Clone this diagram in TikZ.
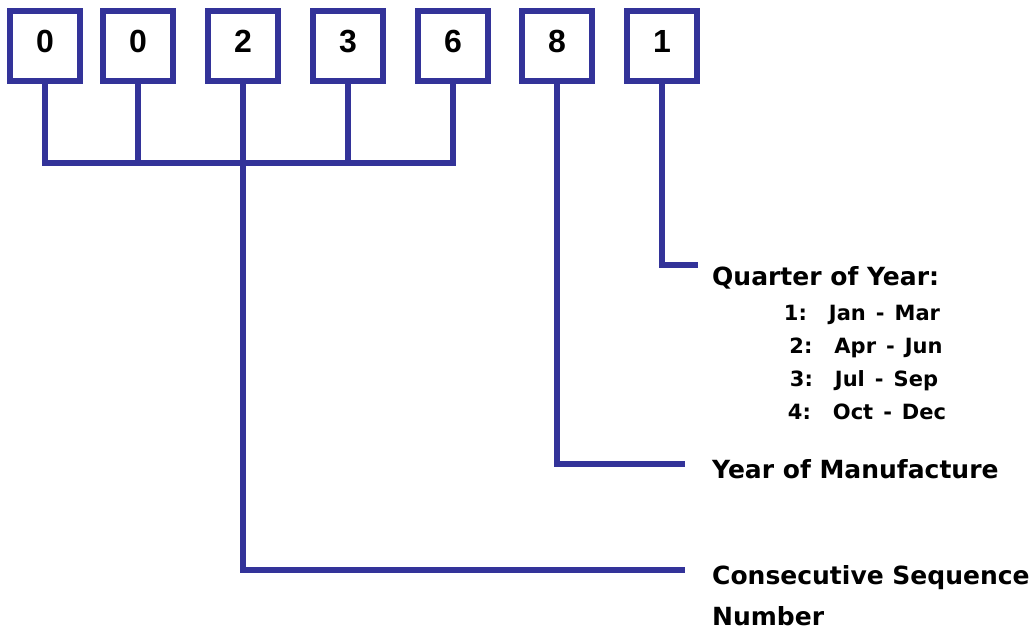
\documentclass[tikz,border=0pt]{standalone}
\usepackage{fontspec}
\setmainfont{DejaVu Sans}
\newfontfamily\digitfont{Liberation Sans}
\usetikzlibrary{positioning}
\definecolor{wireblue}{RGB}{51,51,153}
\newcommand{\months}[3]{#1:\hspace{22pt}#2\hspace{10pt}-\hspace{10pt}#3}
\tikzset{
    digit/.style={draw=wireblue, line width=6pt, minimum width=70pt, minimum height=70pt,
                  inner sep=0pt, text height=23pt, text depth=10pt,
                  font=\digitfont\bfseries\fontsize{32}{32}\selectfont},
    wire/.style={draw=wireblue, line width=6pt},
    title/.style={anchor=base west, inner sep=0pt, font=\bfseries\fontsize{25}{41}\selectfont},
    item/.style={anchor=base, inner sep=0pt, font=\bfseries\fontsize{21}{21}\selectfont},
}

\begin{document}
\begin{tikzpicture}[x=1pt, y=-1pt]
    \useasboundingbox (0,0) rectangle (1035,631);

    % Digits of the serial number
    \node[digit] (d1) at (45,46)  {0};
    \node[digit] (d2) at (138,46) {0};
    \node[digit] (d3) at (243,46) {2};
    \node[digit] (d4) at (348,46) {3};
    \node[digit] (d5) at (453,46) {6};
    \node[digit] (d6) at (557,46) {8};
    \node[digit] (d7) at (662,46) {1};

    % Bracket under the first five digits
    \coordinate (bar) at (0,163);
    \draw[wire, line join=miter] (d1.south) -- (d1.south |- bar) -- (d5.south |- bar) -- (d5.south);
    \draw[wire] (d2.south) -- (d2.south |- bar);
    \draw[wire] (d4.south) -- (d4.south |- bar);

    % Line ends next to the labels
    \coordinate (qend) at (698,265);
    \coordinate (yend) at (685,464);
    \coordinate (send) at (685,570);
    \draw[wire, line join=miter] (d7.south) |- (qend);
    \draw[wire, line join=miter] (d6.south) |- (yend);
    \draw[wire, line join=miter] (d3.south) |- (send);

    % Labels
    \node[title] (quarter) at (712,285) {Quarter of Year:};
    \node[item] (q1) at (862,320) {\months{1}{Jan}{Mar}};
    \node[item] (q2) at (866,353) {\months{2}{Apr}{Jun}};
    \node[item] (q3) at (864,386) {\months{3}{Jul}{Sep}};
    \node[item] (q4) at (867,419) {\months{4}{Oct}{Dec}};
    \node[title] (year) at (712,478) {Year of Manufacture};
    \node[title, align=left] (seq) at (712,625) {Consecutive Sequence\\Number};
\end{tikzpicture}
\end{document}
